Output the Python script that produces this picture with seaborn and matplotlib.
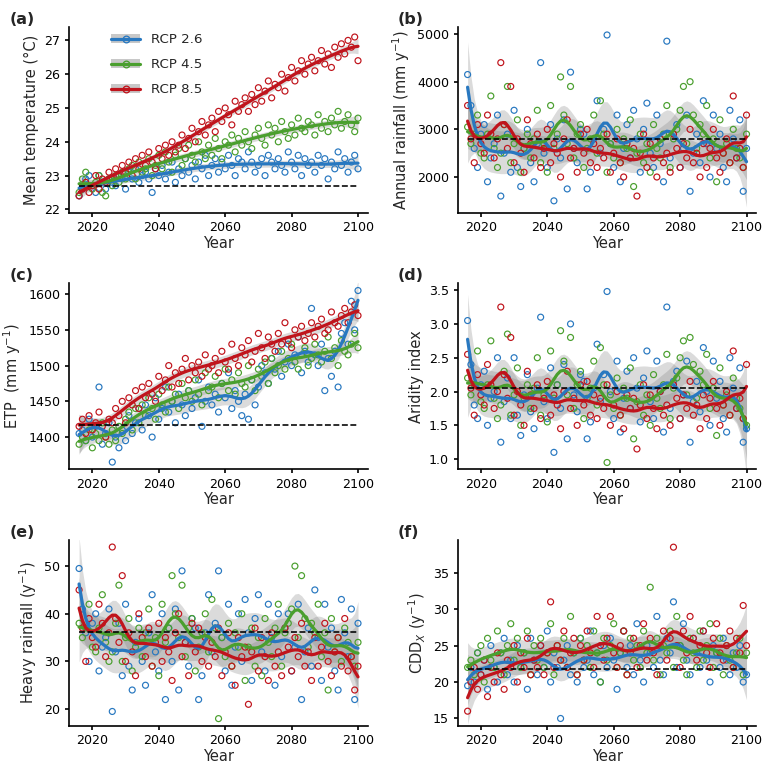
import numpy as np
import pandas as pd
import matplotlib
matplotlib.use("Agg")
import matplotlib.pyplot as plt
import seaborn as sns
from matplotlib.lines import Line2D
from matplotlib.patches import Patch

years = list(range(2016, 2101))
scenarios = ["RCP 2.6", "RCP 4.5", "RCP 8.5"]
colors = {"RCP 2.6": "#2878c0", "RCP 4.5": "#4a9f2e", "RCP 8.5": "#c0141c"}

temp_26 = [22.4,22.6,22.9,23.0,22.7,22.5,23.0,22.8,22.6,22.9,22.8,22.7,23.0,22.9,22.6,23.1,22.9,23.2,22.8,23.0,
23.1,22.9,22.5,23.2,23.0,23.3,22.9,23.1,23.4,22.8,23.2,23.0,23.5,23.1,23.3,22.9,23.4,23.2,23.6,23.0,
23.3,23.5,23.1,23.4,23.2,23.6,23.3,23.0,23.5,23.4,23.2,23.7,23.4,23.1,23.3,23.5,23.0,23.6,23.4,23.2,
23.5,23.3,23.1,23.7,23.4,23.2,23.6,23.0,23.5,23.3,23.4,23.1,23.6,23.3,23.5,22.9,23.4,23.2,23.7,23.3,
23.5,23.1,23.4,23.6,23.2]
temp_45 = [22.5,22.9,23.1,22.7,22.6,22.8,23.0,22.5,22.4,22.9,22.7,23.0,22.8,23.1,22.9,23.2,23.3,22.9,23.4,23.1,
23.2,23.5,23.0,23.3,23.6,23.2,23.7,23.4,23.1,23.6,23.8,23.3,23.5,23.9,23.6,23.4,24.0,23.7,23.5,23.9,
23.6,24.1,23.8,23.5,24.0,23.9,24.2,23.7,24.1,23.9,24.3,24.0,23.8,24.2,24.4,24.1,23.9,24.5,24.2,24.4,
24.0,24.6,24.3,24.1,24.5,24.2,24.7,24.4,24.3,24.6,24.5,24.2,24.8,24.4,24.6,24.3,24.7,24.5,24.9,24.4,
24.6,24.8,24.5,24.3,24.7]
temp_85 = [22.4,22.6,22.8,22.5,22.7,23.0,22.6,22.9,22.8,23.1,22.9,23.2,23.0,23.3,23.1,23.4,23.0,23.5,23.2,23.6,
23.3,23.7,23.4,23.2,23.8,23.5,23.9,23.6,24.0,23.7,23.9,24.2,23.8,24.1,24.4,24.0,24.3,24.6,24.2,24.5,
24.7,24.3,24.9,24.6,25.0,24.8,24.5,25.2,24.9,25.1,25.3,24.9,25.4,25.1,25.6,25.2,25.5,25.8,25.3,25.7,
25.6,26.0,25.5,25.9,26.2,25.8,26.1,26.4,26.0,26.3,26.5,26.1,26.4,26.7,26.3,26.6,26.2,26.8,26.5,26.9,
26.6,27.0,26.8,27.1,26.4]

rain_26 = [4150,3500,2600,2200,2900,3100,1900,2400,2700,3300,1600,2500,2900,2100,3400,2200,1800,2600,3000,2300,
1900,2700,4400,2500,2200,3100,1500,2800,2400,3200,1750,4200,2600,2300,3000,2900,1750,2100,2800,3600,
2500,3000,4980,2700,2200,3300,1900,2600,3100,2400,3400,2800,2100,3000,3550,2500,2200,3300,2700,1900,
4850,2400,2900,3100,2200,2600,3300,1700,2500,2900,2300,3600,2700,2000,3300,2600,2900,2200,1900,3400,
2800,2400,3200,1700,2600]
rain_45 = [3050,2700,2900,3300,2500,2400,2900,3700,2600,2200,2500,3100,3900,2300,2700,3200,2100,2600,2900,2400,
2800,3400,2300,2700,2100,3500,2600,2900,4100,3300,2700,3900,2400,2900,3100,2200,2600,2800,3300,2500,
3600,2900,2100,2700,2400,3000,2300,2800,2600,3200,1800,2500,2900,2300,2700,2100,3100,2600,2400,2900,
3500,2200,2800,3000,3400,3900,2700,4000,3300,2600,3100,2900,3500,2400,2800,1900,3200,2500,2700,2300,
3000,2600,2400,2200,2900]
rain_85 = [3500,2800,2300,3100,2700,2500,3300,2900,2400,2800,4400,3100,2600,3900,2300,2800,2500,2100,3200,2700,
2400,2900,2200,2600,3000,2300,2700,2500,2000,2800,3200,2400,2600,2100,2900,2500,3000,2300,2700,2200,
2600,2400,2900,2100,2500,2800,2300,2000,2700,2400,2600,1600,2500,2900,2200,2700,2400,2000,2800,2300,
2500,2100,2900,2600,2200,2700,2400,3000,2300,2500,2000,2700,2200,2600,3000,2400,2100,2500,2800,2300,
3700,2400,2600,2200,3300]

etp_26 = [1405,1410,1395,1425,1400,1415,1470,1390,1405,1420,1365,1400,1385,1410,1395,1430,1405,1420,1440,1410,
1445,1430,1400,1455,1425,1440,1470,1435,1450,1420,1460,1445,1430,1465,1440,1455,1480,1415,1450,1470,
1445,1460,1435,1475,1455,1490,1440,1465,1450,1430,1460,1425,1480,1445,1470,1500,1490,1475,1510,1495,
1520,1485,1505,1530,1500,1515,1540,1490,1520,1505,1580,1515,1500,1530,1465,1510,1485,1520,1470,1545,
1560,1530,1590,1550,1605]
etp_45 = [1390,1400,1395,1410,1385,1405,1395,1420,1400,1390,1410,1395,1415,1405,1425,1435,1410,1440,1420,1445,
1430,1455,1440,1425,1460,1445,1435,1470,1450,1460,1440,1475,1455,1465,1450,1480,1460,1445,1490,1465,
1470,1485,1455,1475,1495,1465,1480,1460,1490,1475,1470,1500,1480,1465,1495,1485,1505,1475,1510,1490,
1500,1520,1495,1510,1530,1505,1495,1515,1525,1500,1510,1530,1515,1505,1520,1540,1510,1525,1500,1535,
1520,1515,1530,1545,1525]
etp_85 = [1415,1425,1405,1430,1410,1420,1435,1415,1400,1425,1420,1440,1430,1450,1420,1455,1445,1465,1440,1470,
1455,1475,1460,1450,1485,1465,1480,1500,1470,1490,1475,1495,1510,1480,1500,1490,1505,1485,1515,1495,
1500,1510,1490,1520,1505,1495,1530,1510,1500,1525,1515,1535,1505,1520,1545,1525,1510,1540,1530,1520,
1545,1530,1560,1535,1525,1550,1540,1555,1535,1545,1560,1540,1555,1565,1545,1550,1575,1560,1555,1570,
1580,1560,1575,1585,1570]

ai_26 = [3.05,2.4,1.8,1.6,2.1,2.3,1.5,1.9,2.0,2.5,1.25,1.85,2.2,1.6,2.5,1.65,1.35,1.95,2.25,1.7,
1.45,2.05,3.1,1.85,1.6,2.35,1.1,2.1,1.75,2.4,1.3,3.0,1.95,1.7,2.25,2.15,1.3,1.55,2.05,2.7,
1.85,2.25,3.48,2.0,1.6,2.45,1.4,1.9,2.3,1.75,2.5,2.05,1.55,2.2,2.6,1.85,1.6,2.45,2.0,1.4,
3.25,1.75,2.15,2.3,1.6,1.95,2.45,1.25,1.85,2.15,1.7,2.65,2.0,1.5,2.45,1.9,2.15,1.6,1.4,2.5,
2.05,1.75,2.35,1.25,1.45]
ai_45 = [2.2,1.95,2.1,2.6,1.85,1.75,2.1,2.75,1.9,1.6,1.8,2.3,2.85,1.65,1.95,2.35,1.5,1.9,2.1,1.75,
2.05,2.5,1.65,1.95,1.55,2.6,1.9,2.1,2.9,2.45,1.95,2.8,1.75,2.1,2.3,1.6,1.9,2.05,2.45,1.8,
2.65,2.1,0.95,1.95,1.75,2.2,1.65,2.05,1.9,2.35,1.3,1.85,2.1,1.65,1.95,1.5,2.25,1.9,1.75,2.1,
2.55,1.6,2.05,2.2,2.5,2.75,1.95,2.8,2.4,1.9,2.3,2.1,2.55,1.75,2.05,1.35,2.35,1.8,1.95,1.65,
2.2,1.9,1.75,1.6,1.5]
ai_85 = [2.55,2.05,1.65,2.25,1.95,1.8,2.4,2.1,1.75,2.0,3.25,2.25,1.9,2.8,1.65,2.0,1.8,1.5,2.3,1.95,
1.75,2.1,1.6,1.9,2.15,1.65,1.95,1.8,1.45,2.0,2.3,1.75,1.9,1.5,2.1,1.8,2.15,1.65,1.95,1.6,
1.9,1.75,2.1,1.5,1.8,2.0,1.65,1.45,1.95,1.75,1.9,1.15,1.8,2.1,1.6,1.95,1.75,1.45,2.0,1.65,
1.8,1.5,2.1,1.9,1.6,1.95,1.75,2.15,1.65,1.8,1.45,1.95,1.6,1.9,2.15,1.75,1.5,1.8,2.0,1.65,
2.6,1.75,1.9,1.6,2.4]

hr_26 = [49.5,41,36,30,38,40,28,33,35,41,19.5,32,38,27,42,29,24,34,39,30,
25,36,44,32,28,40,22,37,30,41,24,49,34,29,39,37,22,27,36,44,
32,38,49,35,28,42,25,33,40,30,43,36,26,39,44,32,28,42,35,25,
40,31,37,40,28,33,42,22,32,37,29,45,35,26,42,33,37,28,24,43,
36,31,41,22,38]
hr_45 = [38,35,37,42,33,32,37,44,34,30,32,38,46,30,35,39,28,33,37,31,
36,41,29,35,27,42,34,37,48,40,35,46,31,37,39,28,33,36,40,32,
43,37,18,35,31,38,29,36,33,40,26,33,37,29,35,27,39,34,31,37,
42,29,36,38,41,50,35,48,39,33,38,36,42,31,36,24,39,32,35,30,
37,34,31,29,34]
hr_85 = [45,37,30,39,35,33,42,38,31,36,54,39,34,48,30,36,32,27,40,35,
31,37,29,34,38,30,35,32,26,36,40,31,34,27,38,32,37,30,35,29,
34,31,37,27,32,36,29,25,35,31,33,21,32,37,28,35,31,26,36,29,
32,27,37,33,28,35,31,38,29,32,26,35,29,33,38,30,27,32,35,29,
39,28,31,24,29]

cdd_26 = [19.5,22,20,24,21,23,19,25,22,20,24,26,21,23,20,25,22,24,19,26,
23,21,25,22,27,20,24,22,15,23,25,21,24,20,26,22,23,27,21,24,
20,25,22,26,23,19,24,27,22,25,21,28,23,20,25,24,22,29,23,21,
26,24,31,22,25,28,23,21,26,24,22,27,23,20,25,24,22,26,23,21,
24,22,25,20,21]
cdd_45 = [22,23,21,24,25,20,26,23,22,27,24,21,25,28,23,26,22,24,27,21,
25,23,26,22,24,28,21,25,23,26,22,29,24,21,26,23,25,22,27,24,
20,26,23,25,28,22,24,27,21,26,23,25,22,27,24,33,23,26,21,25,
24,27,22,29,25,23,21,26,24,22,27,23,25,28,22,24,26,21,25,23,
22,24,26,21,24]
cdd_85 = [16,20,22,19,21,23,18,22,20,24,21,19,23,22,25,20,24,22,26,21,
23,22,25,21,24,31,22,25,23,27,22,24,26,21,25,23,27,24,22,29,
25,23,26,29,24,22,25,27,21,24,26,22,25,28,23,26,24,21,25,27,
23,26,38.5,25,22,27,24,29,26,23,25,27,24,22,26,28,24,23,25,27,
22,26,24,30.5,25]

panels = [
    ("(a)", "Mean temperature (°C)", [temp_26, temp_45, temp_85], 22.7, (21.9, 27.4), [22,23,24,25,26,27], 5),
    ("(b)", "Annual rainfall (mm y$^{-1}$)", [rain_26, rain_45, rain_85], 2800, (1250, 5150), [2000,3000,4000,5000], 2.3),
    ("(c)", "ETP  (mm y$^{-1}$)", [etp_26, etp_45, etp_85], 1417, (1355, 1615), [1400,1450,1500,1550,1600], 3),
    ("(d)", "Aridity index", [ai_26, ai_45, ai_85], 2.05, (0.85, 3.6), [1.0,1.5,2.0,2.5,3.0,3.5], 2.3),
    ("(e)", "Heavy rainfall (y$^{-1}$)", [hr_26, hr_45, hr_85], 36.2, (16.5, 55.5), [20,30,40,50], 2.3),
    ("(f)", "CDD$_X$ (y$^{-1}$)", [cdd_26, cdd_45, cdd_85], 21.8, (14, 39.5), [15,20,25,30,35], 2.6),
]

def local_linear(x, y, bw):
    x = np.asarray(x, float); y = np.asarray(y, float)
    fit = np.empty_like(x); se = np.empty_like(x)
    for i, x0 in enumerate(x):
        w = np.exp(-0.5 * ((x - x0) / bw) ** 2)
        X = np.column_stack([np.ones_like(x), x - x0])
        W = X * w[:, None]
        A = np.linalg.inv(X.T @ W)
        L = (A @ W.T)[0]
        fit[i] = L @ y
        se[i] = np.sqrt(np.sum(L ** 2))
    resid = y - fit
    sigma = np.sqrt(np.sum(resid ** 2) / (len(y) - 6))
    return fit, 1.96 * sigma * se

sns.set_theme(style="ticks")
plt.rcParams['font.family'] = ['DejaVu Sans']
plt.rcParams['axes.edgecolor'] = 'black'
plt.rcParams['xtick.color'] = 'black'
plt.rcParams['ytick.color'] = 'black'
fig, axes = plt.subplots(3, 2, figsize=(8, 8), dpi=96)
for ax, (lab, ylab, series, ref, ylim, yt, bw) in zip(axes.flat, panels):
    for name, vals in zip(scenarios, series):
        df = pd.DataFrame({"Year": years, "v": vals})
        fit, ci = local_linear(df.Year, df.v, bw)
        ax.fill_between(df.Year, fit - ci, fit + ci, color="#888888", alpha=0.3, lw=0, zorder=1)
        sns.scatterplot(data=df, x="Year", y="v", ax=ax, facecolor="none", edgecolor=colors[name],
                        linewidth=0.9, s=20, zorder=2, legend=False)
        ax.plot(df.Year, fit, color=colors[name], lw=2.4, zorder=3)
    ax.plot([years[0], years[-1]], [ref, ref], ls="--", color="black", lw=1.2, zorder=4)
    ax.set_xlim(2013, 2103)
    ax.set_xticks([2020, 2040, 2060, 2080, 2100])
    ax.set_ylim(*ylim)
    ax.set_yticks(yt)
    ax.set_ylabel(ylab, fontsize=11)
    ax.set_xlabel("Year", fontsize=11, labelpad=1)
    ax.tick_params(labelsize=9.5, length=3)
    sns.despine(ax=ax)
    ax.text(-0.2, 1.04, lab, transform=ax.transAxes, fontsize=12, fontweight="bold", va="center")

handles = [(Patch(facecolor="#c8c8c8", edgecolor="none"),
            Line2D([], [], color=colors[n], lw=2.4, marker="o", mfc="none", mec=colors[n], ms=5))
           for n in scenarios]
axes[0, 0].legend(handles, scenarios, loc="upper left", bbox_to_anchor=(0.1, 1.03), frameon=False,
                  fontsize=10, handlelength=2.2, labelspacing=0.9)
fig.subplots_adjust(left=0.09, right=0.985, top=0.965, bottom=0.055, hspace=0.38, wspace=0.3)
fig.savefig("out.png", dpi=96)
